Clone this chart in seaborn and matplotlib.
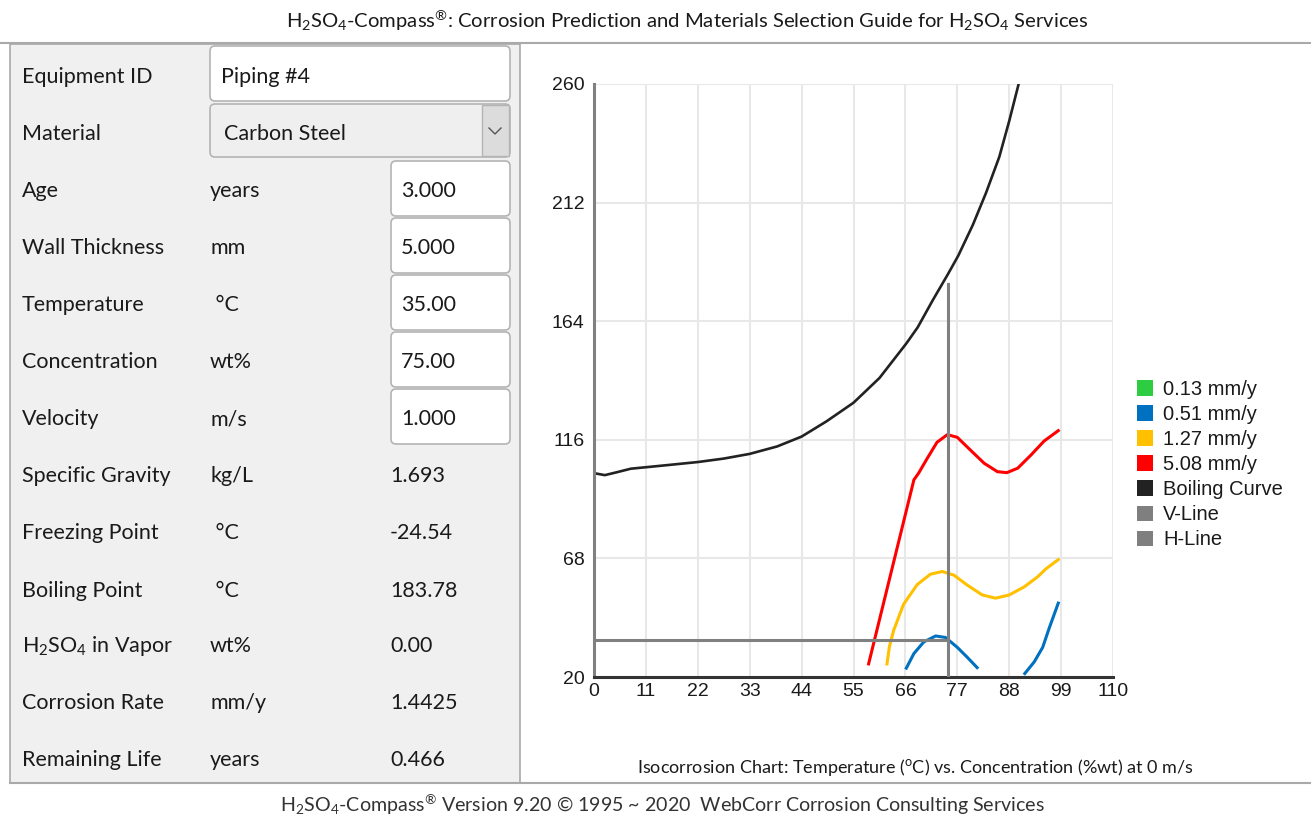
import pandas as pd
import matplotlib.pyplot as plt
import seaborn as sns
from matplotlib.patches import FancyBboxPatch, Rectangle, Patch

OUTPUT_PATH = "out.png"
W, H = 1311, 817

# Form panel content
FORM_LABELS = ["Equipment ID", "Material", "Age", "Wall Thickness", "Temperature",
               "Concentration", "Velocity", "Specific Gravity", "Freezing Point",
               "Boiling Point", r"H$_2$SO$_4$ in Vapor", "Corrosion Rate", "Remaining Life"]
FORM_UNITS = ["", "", "years", "mm", " °C", "wt%", "m/s", "kg/L", " °C", " °C",
              "wt%", "mm/y", "years"]
FORM_VALUES = ["Piping #4", "Carbon Steel", "3.000", "5.000", "35.00", "75.00", "1.000",
               "1.693", "-24.54", "183.78", "0.00", "1.4425", "0.466"]

# Isocorrosion chart: concentration (wt%) vs temperature (°C)
BOIL_CONC = [0, 2.3, 4.9, 7.8, 11, 16.3, 22, 27.5, 33, 38.8, 44, 49.3, 55, 60.5, 66.2,
             68.6, 71.8, 75, 77.2, 80.3, 83.1, 85.9, 88, 90]
BOIL_TEMP = [102.5, 101.7, 102.9, 104.3, 104.9, 105.9, 107, 108.4, 110.3, 113.3, 117.3,
             123.5, 131, 141, 155, 161.5, 172.5, 183, 190.5, 203, 216, 230.5, 245, 260]

RED_CONC = [58.2, 67.8, 68.8, 70.6, 72.7, 74.9, 77, 79.8, 82.7, 85.5, 87.5, 89.8, 92.6, 95.4, 98.4]
RED_TEMP = [25.3, 99.8, 102.5, 108.4, 115, 118.1, 117, 111.8, 106.5, 103.1, 102.7, 104.5,
            109.8, 115.5, 119.7]

GOLD_CONC = [62.1, 62.6, 63.5, 65.6, 68.5, 71.3, 73.8, 76.3, 79.1, 82.3, 85.1, 88, 91.2, 94, 95.8, 98.4]
GOLD_TEMP = [25.3, 32.2, 38.8, 49.4, 57.4, 61.6, 62.7, 61.2, 57.2, 53.2, 51.9, 53.2, 56.5,
             60.5, 63.8, 67.5]

BLUE1_CONC = [66.2, 67.8, 69.9, 72.4, 74.5, 77, 79.1, 81.2]
BLUE1_TEMP = [23.6, 29.5, 34.2, 36.6, 36, 32, 28, 23.8]
BLUE2_CONC = [91.3, 93.3, 95.1, 96.5, 98.4]
BLUE2_TEMP = [21.4, 26.1, 32, 39.9, 49.9]

V_LINE_X, V_LINE_TOP = 75, 179
H_LINE_Y = 35

X_TICKS = [0, 11, 22, 33, 44, 55, 66, 77, 88, 99, 110]
Y_TICKS = [20, 68, 116, 164, 212, 260]

LEGEND_LABELS = ["0.13 mm/y", "0.51 mm/y", "1.27 mm/y", "5.08 mm/y",
                 "Boiling Curve", "V-Line", "H-Line"]
LEGEND_COLORS = ["#2ecc40", "#0070c0", "#ffc000", "#ff0000", "#222222", "#7f7f7f", "#7f7f7f"]

plt.rcParams["font.family"] = ["Liberation Sans", "DejaVu Sans"]
plt.rcParams["mathtext.fontset"] = "custom"
plt.rcParams["mathtext.rm"] = "Lato"
plt.rcParams["mathtext.it"] = "Lato:italic"
plt.rcParams["mathtext.bf"] = "Lato:bold"

TXT = "#1a1a1a"
LATO = ["Lato", "DejaVu Sans"]
FORM_FS = 15.5

fig = plt.figure(figsize=(W / 100, H / 100), dpi=100)

# ---- background / form panel drawn in pixel coordinates ----
bg = fig.add_axes([0, 0, 1, 1], zorder=0)
bg.set_xlim(0, W)
bg.set_ylim(H, 0)
bg.axis("off")

bg.text(687, 21, r"H$_2$SO$_4$-Compass$^{®}$: Corrosion Prediction and Materials Selection Guide for H$_2$SO$_4$ Services",
        ha="center", va="center", fontsize=14.6, family=LATO, color=TXT)
bg.plot([0, W], [43, 43], color="#a9a9a9", lw=1.5)
bg.plot([10, W], [783, 783], color="#a9a9a9", lw=1.5)
bg.add_patch(Rectangle((10, 44), 510, 739, fc="#f0f0f0", ec="#a9a9a9", lw=1.2))

def box(x0, y0, x1, y1, fc="white"):
    bg.add_patch(FancyBboxPatch((x0, y0), x1 - x0, y1 - y0,
                                boxstyle="round,pad=0,rounding_size=5",
                                fc=fc, ec="#b4b4b4", lw=1.2))

box(210, 46, 510, 101)
box(210, 104, 510, 157, fc="#efefef")
bg.add_patch(Rectangle((482, 105), 27, 51, fc="#dcdcdc", ec="#b4b4b4", lw=1))
bg.plot([489, 495, 501], [128, 134, 128], color="#555555", lw=1)
for i in range(5):
    box(391, 161 + i * 57, 510, 216 + i * 57)

baselines = [83, 140, 197, 254, 311, 368, 425, 482, 539, 597, 652, 709, 766]
for i, (lab, unit, val) in enumerate(zip(FORM_LABELS, FORM_UNITS, FORM_VALUES)):
    yb = baselines[i]
    bg.text(22, yb, lab, ha="left", va="baseline", fontsize=FORM_FS, family=LATO, color=TXT)
    if unit:
        bg.text(210, yb, unit, ha="left", va="baseline", fontsize=FORM_FS, family=LATO, color=TXT)
    if i < 2:
        vx = 221 if i == 0 else 224
    elif i < 7:
        vx = 401
    else:
        vx = 390
    bg.text(vx, yb, val, ha="left", va="baseline", fontsize=FORM_FS, family=LATO, color=TXT)

bg.text(915, 768, r"Isocorrosion Chart: Temperature ($^{\mathrm{o}}$C) vs. Concentration (%wt) at 0 m/s",
        ha="center", va="center", fontsize=13, family=LATO, color=TXT)
bg.text(662, 805, r"H$_2$SO$_4$-Compass$^{®}$ Version 9.20 © 1995 ~ 2020  WebCorr Corrosion Consulting Services",
        ha="center", va="center", fontsize=14.1, family=LATO, color="#333333")

# ---- isocorrosion chart ----
ax = fig.add_axes([594 / W, 1 - 677 / H, (1113 - 594) / W, (677 - 84) / H], zorder=2)

curves = pd.concat([
    pd.DataFrame({"conc": RED_CONC, "temp": RED_TEMP, "series": "5.08 mm/y", "segment": 0}),
    pd.DataFrame({"conc": GOLD_CONC, "temp": GOLD_TEMP, "series": "1.27 mm/y", "segment": 1}),
    pd.DataFrame({"conc": BLUE1_CONC, "temp": BLUE1_TEMP, "series": "0.51 mm/y", "segment": 2}),
    pd.DataFrame({"conc": BLUE2_CONC, "temp": BLUE2_TEMP, "series": "0.51 mm/y", "segment": 3}),
], ignore_index=True)
palette = dict(zip(LEGEND_LABELS[:4], LEGEND_COLORS[:4]))

sns.lineplot(x=BOIL_CONC, y=BOIL_TEMP, color=LEGEND_COLORS[4], lw=1.9, ax=ax)
sns.lineplot(data=curves, x="conc", y="temp", hue="series", units="segment",
             estimator=None, sort=False, palette=palette, lw=2.2, legend=False, ax=ax)
ax.plot([V_LINE_X, V_LINE_X], [Y_TICKS[0], V_LINE_TOP], color="#808080", lw=2.2, zorder=5)
ax.plot([0, V_LINE_X], [H_LINE_Y, H_LINE_Y], color="#808080", lw=2.2, zorder=5)

ax.set_xlim(0, 110)
ax.set_ylim(20, 260)
ax.set_xticks(X_TICKS)
ax.set_yticks(Y_TICKS)
ax.set_xlabel("")
ax.set_ylabel("")
ax.grid(True, color="#e8e8e8", lw=1.5)
ax.set_axisbelow(True)
ax.tick_params(length=0, labelsize=14, labelcolor=TXT)
ax.tick_params(axis="y", pad=7)
ax.tick_params(axis="x", pad=4)
for s in ["top", "right"]:
    ax.spines[s].set_visible(False)
ax.spines["left"].set_color("#808080")
ax.spines["left"].set_linewidth(2.2)
ax.spines["bottom"].set_color("#333333")
ax.spines["bottom"].set_linewidth(2.2)

handles = [Patch(fc=c, ec="none", label=l) for l, c in zip(LEGEND_LABELS, LEGEND_COLORS)]
fig.legend(handles=handles, loc="upper left", bbox_to_anchor=(1137 / W, 1 - 380 / H),
           frameon=False, handlelength=0.8, handleheight=0.8, handletextpad=0.5,
           labelspacing=0.3, borderpad=0, borderaxespad=0,
           prop={"family": "Liberation Sans", "size": 14.5}, labelcolor=TXT)

fig.savefig(OUTPUT_PATH, dpi=100)
plt.close(fig)
